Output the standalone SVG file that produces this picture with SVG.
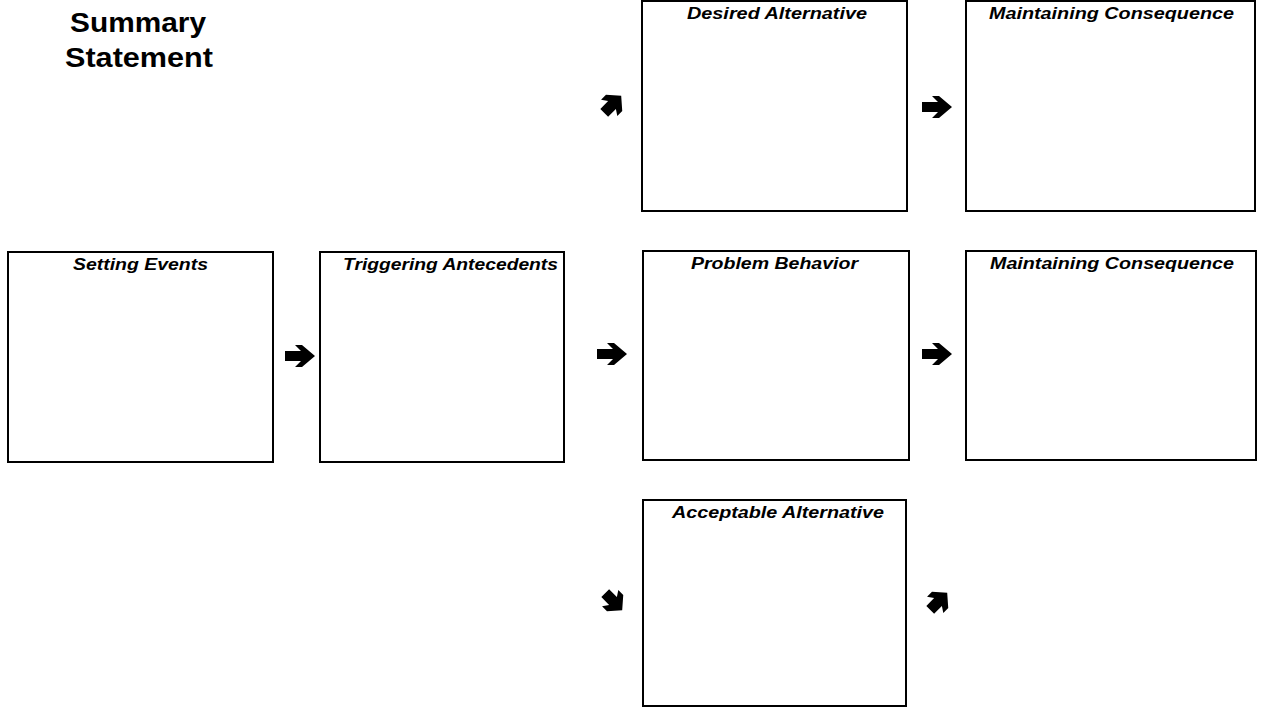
<svg xmlns="http://www.w3.org/2000/svg" xmlns:xlink="http://www.w3.org/1999/xlink" width="1261" height="709" viewBox="0 0 1261 709">
  <style>
    .box { fill: #ffffff; stroke: #000000; stroke-width: 2; }
    .label { font-family: "Liberation Sans", Arial, sans-serif; font-size: 16px; font-weight: bold; font-style: italic; fill: #000000; text-anchor: middle; }
    .title { font-family: "Liberation Sans", Arial, sans-serif; font-size: 28px; font-weight: bold; fill: #000000; text-anchor: middle; }
    .arrow { fill: #000000; }
  </style>
  <defs>
    <!-- block arrow pointing right, centred on the origin -->
    <path id="blockArrow" d="M-15,-5 H1 L-5,-11 H2 L15,0 L2,11 H-5 L1,5 H-15 Z"/>
    <!-- shorter, stockier block arrow used for the diagonal links -->
    <path id="stubArrow" d="M-11,-5.5 H0 L-4,-11.5 H3 L13,0 L3,11.5 H-4 L0,5.5 H-11 Z"/>
  </defs>
  <rect width="1261" height="709" fill="#ffffff"/>

  <g id="summary-title">
    <text class="title" x="138" y="32" textLength="136" lengthAdjust="spacingAndGlyphs">Summary</text>
    <text class="title" x="139" y="67" textLength="148" lengthAdjust="spacingAndGlyphs">Statement</text>
  </g>

  <g id="setting-events">
    <rect class="box" x="8" y="252" width="265" height="210"/>
    <text class="label" x="140.5" y="270" textLength="135" lengthAdjust="spacingAndGlyphs">Setting Events</text>
  </g>

  <g id="triggering-antecedents">
    <rect class="box" x="320" y="252" width="244" height="210"/>
    <text class="label" x="450.5" y="270" textLength="215" lengthAdjust="spacingAndGlyphs">Triggering Antecedents</text>
  </g>

  <g id="desired-alternative">
    <rect class="box" x="642" y="1" width="265" height="210"/>
    <text class="label" x="777" y="19" textLength="180" lengthAdjust="spacingAndGlyphs">Desired Alternative</text>
  </g>

  <g id="problem-behavior">
    <rect class="box" x="643" y="251" width="266" height="209"/>
    <text class="label" x="774.5" y="269" textLength="167" lengthAdjust="spacingAndGlyphs">Problem Behavior</text>
  </g>

  <g id="acceptable-alternative">
    <rect class="box" x="643" y="500" width="263" height="206"/>
    <text class="label" x="778" y="518" textLength="212" lengthAdjust="spacingAndGlyphs">Acceptable Alternative</text>
  </g>

  <g id="maintaining-consequence-top">
    <rect class="box" x="966" y="1" width="289" height="210"/>
    <text class="label" x="1111.5" y="19" textLength="245" lengthAdjust="spacingAndGlyphs">Maintaining Consequence</text>
  </g>

  <g id="maintaining-consequence-middle">
    <rect class="box" x="966" y="251" width="290" height="209"/>
    <text class="label" x="1112" y="269" textLength="244" lengthAdjust="spacingAndGlyphs">Maintaining Consequence</text>
  </g>

  <g id="connectors" class="arrow">
    <use xlink:href="#blockArrow" transform="translate(300,356)"/>
    <use xlink:href="#blockArrow" transform="translate(612,354)"/>
    <use xlink:href="#blockArrow" transform="translate(937,354)"/>
    <use xlink:href="#blockArrow" transform="translate(937,107)"/>
    <use xlink:href="#stubArrow" transform="translate(612,105) rotate(-45)"/>
    <use xlink:href="#stubArrow" transform="translate(613,601) rotate(45)"/>
    <use xlink:href="#stubArrow" transform="translate(938,602) rotate(-45)"/>
  </g>
</svg>
